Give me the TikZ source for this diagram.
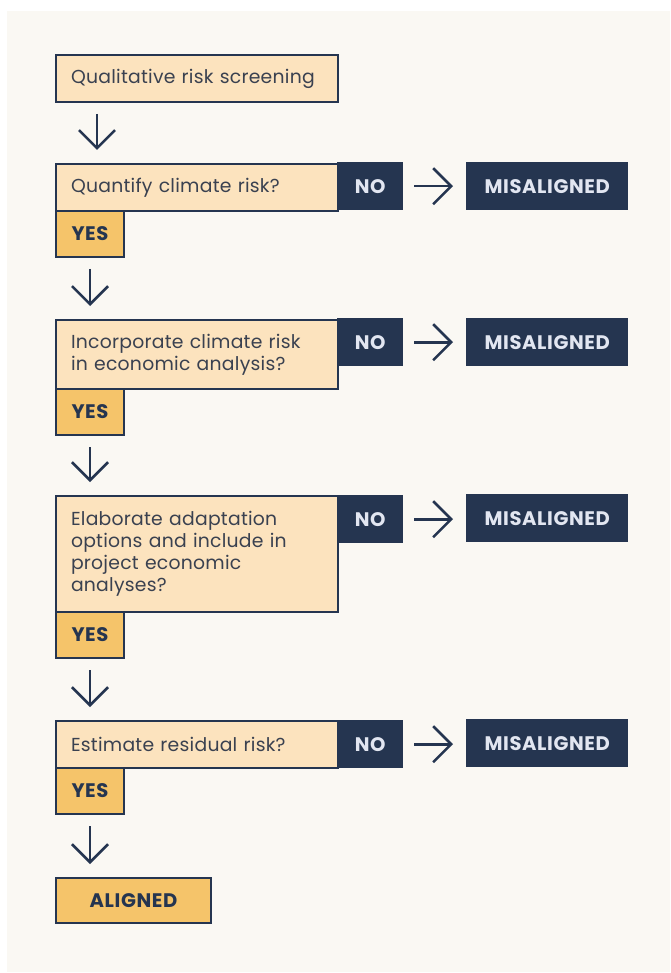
\documentclass[tikz,border=0pt]{standalone}
\usepackage{fontspec}
\setmainfont{Poppins}[LetterSpace=1.3]
\newfontfamily\boldfam{Poppins}[LetterSpace=3]
\usetikzlibrary{arrows.meta,calc}
\definecolor{panel}{HTML}{FAF8F3}
\definecolor{navy}{HTML}{253550}
\definecolor{light}{HTML}{FCE3BE}
\definecolor{gold}{HTML}{F5C46A}
\definecolor{txt}{HTML}{3A4150}
\definecolor{pale}{HTML}{E2E6F1}
\tikzset{
  qbox/.style={draw=navy, line width=2pt, fill=light, anchor=north west,
    minimum width=282pt, text width=252pt, inner xsep=15pt, inner ysep=0pt,
    align=left, text=txt, font=\fontsize{18.8}{22}\selectfont},
  bfont/.style={font=\boldfam\fontsize{19.6}{20}\selectfont\bfseries},
  nobox/.style={fill=navy, anchor=north west, minimum width=66pt, minimum height=48pt,
    inner sep=0pt, text=pale, bfont},
  misbox/.style={fill=navy, anchor=north west, minimum width=162pt, minimum height=48pt,
    inner sep=0pt, text=pale, bfont},
  yesbox/.style={draw=navy, line width=2pt, fill=gold, anchor=north west,
    minimum width=68pt, minimum height=46pt, inner sep=0pt, text=navy, bfont},
  arr/.style={draw=navy, line width=2.6pt,
    -{Straight Barb[length=18pt, width=36pt, line width=2.6pt]},
    shorten <=11pt, shorten >=13pt},
}
\begin{document}
\begin{tikzpicture}[x=1pt,y=-1pt]
\useasboundingbox (0,0) rectangle (670,973);
\fill[panel] (7,11) rectangle (670,972);

% step 0
\node[qbox, minimum height=47pt] (q0) at (55,54) {Qualitative risk screening};

% step 1
\node[qbox, minimum height=47pt] (q1) at (55,163) {Quantify climate risk?};
\node[nobox] (n1) at (337,162) {NO};
\node[misbox] (m1) at (466,162) {MISALIGNED};
\node[yesbox] (y1) at (55,210) {YES};

% step 2
\node[qbox, minimum height=69pt] (q2) at (55,319) {Incorporate climate risk\\in economic analysis?};
\node[nobox] (n2) at (337,318) {NO};
\node[misbox] (m2) at (466,318) {MISALIGNED};
\node[yesbox] (y2) at (55,388) {YES};

% step 3
\node[qbox, minimum height=116pt] (q3) at (55,495) {Elaborate adaptation\\options and include in\\project economic\\analyses?};
\node[nobox] (n3) at (337,495) {NO};
\node[misbox] (m3) at (466,494) {MISALIGNED};
\node[yesbox] (y3) at (55,611) {YES};

% step 4
\node[qbox, minimum height=47pt] (q4) at (55,720) {Estimate residual risk?};
\node[nobox] (n4) at (337,720) {NO};
\node[misbox] (m4) at (466,719) {MISALIGNED};
\node[yesbox] (y4) at (55,767) {YES};

% final
\node[yesbox, minimum width=155pt, minimum height=45pt] (al) at (55,877) {ALIGNED};

% down arrows
\draw[arr] ([xshift=42pt]q0.south west) -- ([xshift=42pt]q1.north west);
\draw[arr] (y1.south) -- (y1.south |- q2.north);
\draw[arr] (y2.south) -- (y2.south |- q3.north);
\draw[arr] (y3.south) -- (y3.south |- q4.north);
\draw[arr] (y4.south) -- (y4.south |- al.north);

% right arrows
\draw[arr] (n1.east) -- (n1.east -| m1.west);
\draw[arr] (n2.east) -- (n2.east -| m2.west);
\draw[arr] (n3.east) -- (n3.east -| m3.west);
\draw[arr] (n4.east) -- (n4.east -| m4.west);
\end{tikzpicture}
\end{document}
